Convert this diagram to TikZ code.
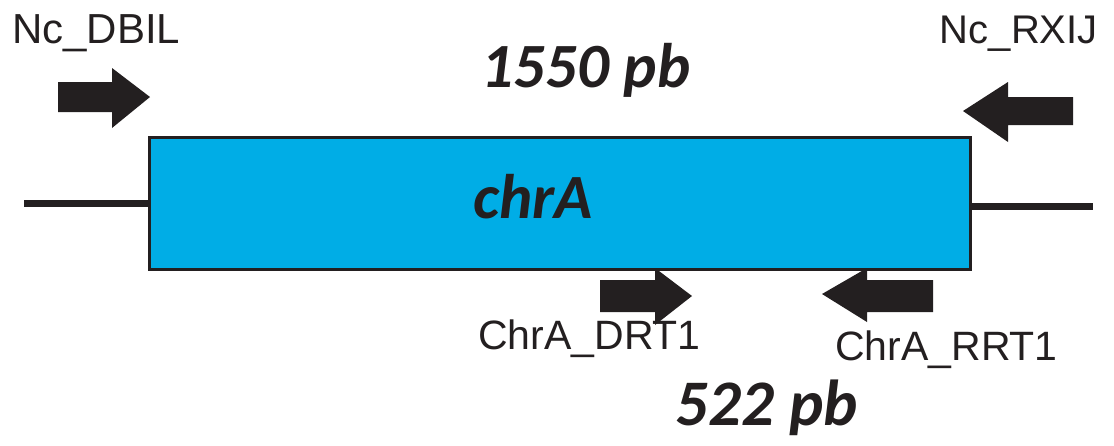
\documentclass[tikz,border=0pt]{standalone}
\usepackage{fontspec}
\setmainfont{Liberation Sans}
\newfontfamily\calib{Carlito}
\definecolor{ink}{HTML}{231F20}
\definecolor{gene}{HTML}{00ADE6}
\begin{document}
\begin{tikzpicture}[x=1pt,y=-1pt,
  primer/.style={fill=ink,draw=none},
  lbl/.style={inner sep=0pt,text=ink,font=\fontsize{42}{42}\selectfont},
  big/.style={inner sep=0pt,text=ink,font=\calib\bfseries\itshape\fontsize{63}{63}\selectfont},
  dna/.style={draw=ink,line width=7pt}]
\useasboundingbox (0,0) rectangle (1114,445);
% flanking DNA
\coordinate (l0) at (24,203.5);
\coordinate (r1) at (1093,206.5);
\node[draw=ink,line width=3pt,fill=gene,minimum width=821pt,minimum height=132pt,inner sep=0pt,anchor=north west] (gene) at (147.5,135.5) {};
\draw[dna] (l0) -- (l0 -| gene.west);
\draw[dna] (r1 -| gene.east) -- (r1);
\node[big,anchor=base] (chr) at (533,218) {chrA};
% primers
\fill[primer] (58,82) -- (112,82) -- (112,68) -- (150,97) -- (112,128) -- (112,112) -- (58,112) -- cycle;
\fill[primer] (1073,97) -- (1008,97) -- (1008,82) -- (963,111) -- (1008,142) -- (1008,125) -- (1073,125) -- cycle;
\fill[primer] (600,280) -- (655,280) -- (655,268) -- (692,296) -- (655,325) -- (655,312) -- (600,312) -- cycle;
\fill[primer] (933,280) -- (867,280) -- (867,268) -- (822,294) -- (867,322) -- (867,312) -- (933,312) -- cycle;
% labels
\node[lbl,anchor=base west] (dbil) at (12,43) {Nc\_DBIL};
\node[lbl,anchor=base east,font=\fontsize{40}{40}\selectfont] (rxij) at (1098,43) {Nc\_RXIJ};
\node[lbl,anchor=base west,font=\fontsize{41}{41}\selectfont] (drt) at (478,349) {ChrA\_DRT1};
\node[lbl,anchor=base west,font=\fontsize{41}{41}\selectfont] (rrt) at (835,360) {ChrA\_RRT1};
\node[big,anchor=base] (l1550) at (586,87) {1550 pb};
\node[big,anchor=base,font=\calib\bfseries\itshape\fontsize{65}{65}\selectfont] (l522) at (767,425) {522 pb};
\end{tikzpicture}
\end{document}
